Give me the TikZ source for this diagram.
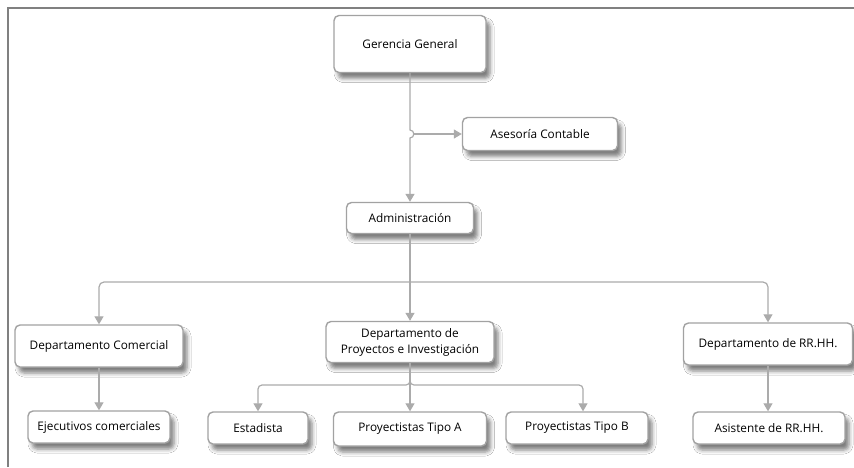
\documentclass[tikz,border=0pt]{standalone}
\usepackage{fontspec}
\setmainfont{Open Sans}
\usetikzlibrary{arrows.meta,shadows.blur,backgrounds,calc}
\definecolor{boxline}{HTML}{A2A2A2}
\definecolor{linkline}{HTML}{ABABAB}
\definecolor{linkshade}{HTML}{E4E4E4}
\definecolor{frameline}{HTML}{808080}
\tikzset{
  orgbox/.style={draw=boxline, line width=1.4pt, rounded corners=5pt, fill=white,
    align=center, inner sep=0pt, font=\fontsize{11.8}{16}\selectfont,
    blur shadow={shadow xshift=4pt, shadow yshift=-6pt, shadow blur radius=4pt, shadow opacity=50}},
  link/.style={draw=linkline, line width=1.2pt, -{Triangle[length=8pt,width=9pt]}},
  linkshadow/.style={draw=linkshade, line width=1pt,
    transform canvas={xshift=10pt,yshift=-10pt}},
}
\begin{document}
\begin{tikzpicture}[x=1pt,y=1pt]
\useasboundingbox (0,0) rectangle (854,-467);
\fill[white] (0,0) rectangle (854,-467);
% window frame
\draw[frameline, line width=2pt] (8,-467) -- (8,-8) -- (854,-8);

% boxes
\node[orgbox, minimum width=152pt, minimum height=57pt] (gg) at (410,-44) {Gerencia General};
\node[orgbox, minimum width=155pt, minimum height=33pt] (as) at (540,-134) {Asesoría Contable};
\node[orgbox, minimum width=127pt, minimum height=31pt] (adm) at (410,-218) {Administración};
\node[orgbox, minimum width=168pt, minimum height=42pt] (dc) at (99,-346) {Departamento Comercial};
\node[orgbox, minimum width=168pt, minimum height=41pt] (dp) at (410,-342) {Departamento de\\Proyectos e Investigación};
\node[orgbox, minimum width=169pt, minimum height=42pt] (rh) at (768,-344) {Departamento de RR.HH.};
\node[orgbox, minimum width=142pt, minimum height=32pt] (ej) at (99,-427) {Ejecutivos comerciales};
\node[orgbox, minimum width=100pt, minimum height=32pt] (es) at (258,-428) {Estadista};
\node[orgbox, minimum width=153pt, minimum height=34pt] (ta) at (410,-429) {Proyectistas Tipo A};
\node[orgbox, minimum width=142pt, minimum height=32pt] (tb) at (577,-428) {Proyectistas Tipo B};
\node[orgbox, minimum width=152pt, minimum height=32pt] (ax) at (769,-428) {Asistente de RR.HH.};

% junction points of the connectors
\coordinate (hop) at (gg.south |- as.west);
\coordinate (busA) at (410,-282);
\coordinate (busB) at (410,-385);

\begin{scope}[on background layer]
  % faint connector shadows
  \draw[linkshadow] (gg.south) -- (adm.north);
  \draw[linkshadow] (hop) -- (as.west);
  \draw[linkshadow] (adm.south) -- (dp.north);
  \draw[linkshadow, rounded corners=5pt] (busA) -| (dc.north);
  \draw[linkshadow, rounded corners=5pt] (busA) -| (rh.north);
  \draw[linkshadow] (dc.south) -- (ej.north);
  \draw[linkshadow] (rh.south) -- ([xshift=1pt]ax.north);
  \draw[linkshadow, rounded corners=4pt] (dp.south) -- (busB) -| (es.north);
  \draw[linkshadow, rounded corners=4pt] (dp.south) -- (busB) -| ([xshift=6pt]tb.north);
  \draw[linkshadow] (dp.south) -- (ta.north);
\end{scope}

% connectors
\draw[link] (gg.south) -- ([yshift=4pt]hop) to[out=0,in=0,looseness=1.6] ([yshift=-4pt]hop) -- (adm.north);
\draw[link] ([xshift=3pt]hop) -- (as.west);
\draw[link] (adm.south) -- (dp.north);
\draw[link, rounded corners=5pt] (busA) -| (dc.north);
\draw[link, rounded corners=5pt] (busA) -| (rh.north);
\draw[link] (dc.south) -- (ej.north);
\draw[link] (rh.south) -- (rh.south |- ax.north);
\draw[link, rounded corners=4pt] (dp.south) -- (busB) -| (es.north);
\draw[link, rounded corners=4pt] (dp.south) -- (busB) -| ([xshift=6pt]tb.north);
\draw[link] (dp.south) -- (ta.north);
\end{tikzpicture}
\end{document}
